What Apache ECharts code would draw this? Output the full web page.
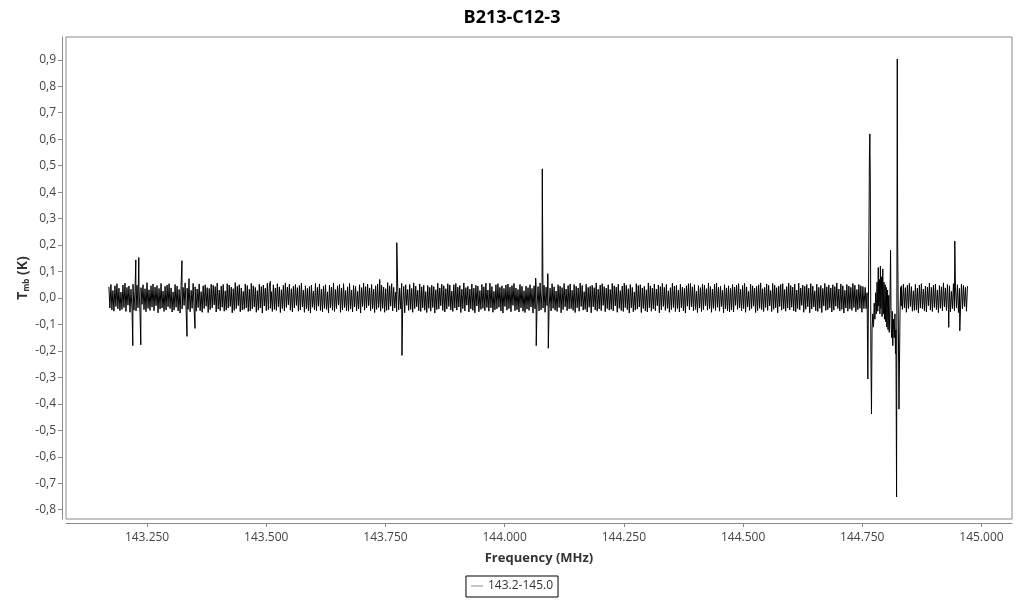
<!DOCTYPE html>
<html>
<head>
<meta charset="utf-8">
<script src="https://cdn.jsdelivr.net/npm/echarts@6/dist/echarts.min.js"></script>
<style>
html,body{margin:0;padding:0;background:#fff;}
#chart{width:1024px;height:600px;}
</style>
</head>
<body>
<div id="chart"></div>
<script>
// ---- data ----
const chartTitle = 'B213-C12-3';
const seriesName = '143.2-145.0';
const xTicks = [143.25, 143.5, 143.75, 144.0, 144.25, 144.5, 144.75, 145.0];
const yTicks = [-0.8,-0.7,-0.6,-0.5,-0.4,-0.3,-0.2,-0.1,0,0.1,0.2,0.3,0.4,0.5,0.6,0.7,0.8,0.9];
const xRange = [143.08, 145.064];
const yRange = [-0.835, 0.986];

// channel grid of the two baseline segments (first and last channel, MHz)
const segA = [143.170, 144.7534];
const segB = [144.832, 144.9706];
// baseline noise, mK, read column by column along the band
const noiseA_mK = [
42,-38,51,-45,28,-50,46,-32,54,-41,37,-48,22,-43,49,-36,56,-51,40,-27,
45,-54,33,-40,52,-46,25,-49,48,-37,43,-55,39,-24,50,-44,35,-52,58,-39,
31,-47,46,-34,53,-48,41,-29,47,-56,36,-42,55,-38,26,-51,44,-45,49,-33,
54,-40,38,-53,23,-46,51,-35,45,-49,32,-57,48,-41,40,-28,57,-47,37,-43,
47,-52,29,-39,55,-45,42,-50,34,-36,53,-48,24,-54,46,-40,50,-31,39,-55,
36,-44,52,-37,48,-26,43,-53,56,-42,30,-48,45,-35,51,-50,27,-46,54,-38,
49,-32,41,-56,35,-47,58,-40,44,-29,50,-52,38,-45,25,-43,53,-37,47,-51,
33,-49,55,-41,46,-34,40,-54,28,-46,52,-38,43,-57,49,-30,37,-48,56,-44,
45,-39,24,-51,50,-43,38,-47,54,-33,42,-55,31,-40,48,-49,57,-36,41,-26,
52,-46,35,-53,44,-38,51,-28,39,-50,47,-45,56,-34,29,-54,46,-41,36,-48,
43,-57,49,-35,26,-44,55,-49,40,-31,53,-47,34,-52,45,-39,50,-43,23,-56,
48,-37,41,-46,57,-51,32,-40,46,-27,51,-54,37,-45,54,-36,28,-48,42,-50,
55,-42,30,-53,47,-34,44,-49,25,-41,50,-57,39,-32,56,-46,43,-38,52,-29,
38,-48,51,-40,34,-55,46,-43,53,-36,27,-50,48,-39,41,-54,35,-47,58,-44,
46,-31,54,-49,40,-38,22,-52,49,-45,37,-41,55,-34,44,-56,50,-28,32,-47,
51,-43,36,-54,57,-40,45,-33,29,-48,53,-51,42,-37,48,-46,24,-55,47,-39,
40,-50,48,-36,43,-57,31,-44,56,-41,38,-29,52,-47,46,-53,35,-42,54,-32,
49,-45,26,-51,50,-38,55,-46,41,-34,47,-55,33,-40,57,-49,39,-27,44,-53,
34,-41,53,-47,37,-56,48,-30,45,-52,28,-43,51,-39,42,-48,56,-36,30,-50,
56,-37,43,-54,25,-45,50,-41,54,-35,40,-49,46,-57,36,-32,49,-46,53,-40,
41,-52,47,-28,55,-48,38,-44,32,-53,51,-37,44,-50,27,-55,45,-42,39,-47,
50,-34,36,-57,46,-41,53,-31,43,-49,57,-45,30,-38,48,-54,41,-29,52,-43,
37,-49,54,-39,42,-46,26,-51,50,-36,45,-56,39,-44,55,-33,34,-48,47,-41,
53,-40,29,-47,51,-55,44,-37,38,-50,56,-32,47,-46,24,-43,52,-53,40,-35,
44,-56,48,-33,39,-45,57,-50,33,-41,49,-48,54,-28,43,-52,37,-40,50,-46,
32,-43,55,-49,46,-30,41,-54,52,-39,28,-47,45,-51,56,-36,48,-44,35,-57,
51,-38,40,-52,23,-46,54,-42,47,-34,50,-55,38,-40,44,-49,31,-53,57,-37,
46,-50,37,-41,53,-48,34,-29,49,-56,43,-45,55,-32,40,-47,51,-39,27,-54,
39,-44,56,-36,45,-51,48,-40,30,-53,52,-37,41,-49,36,-57,46,-31,54,-45,
55,-33,42,-48,50,-43,26,-55,47,-38,39,-51,53,-44,48,-29,35,-46,57,-40,
43,-54,34,-39,52,-47,56,-35,40,-50,45,-32,29,-56,50,-41,38,-48,46,-52,
36,-45,51,-53,41,-28,49,-43,54,-37,33,-49,47,-40,55,-54,42,-34,25,-47,
52,-40,46,-31,37,-55,44,-48,50,-39,57,-44,35,-51,40,-36,53,-47,48,-30,
28,-51,55,-43,48,-37,39,-56,45,-32,51,-46,54,-41,32,-50,43,-38,56,-45,
47,-35,41,-49,53,-52,30,-40,56,-45,38,-28,49,-54,44,-43,51,-33,37,-56,
54,-42,45,-34,27,-48,52,-51,40,-39,47,-55,36,-30,55,-47,42,-44,49,-37,
38,-53,50,-46,43,-31,57,-40,34,-49,53,-43,46,-57,29,-38,51,-50,45,-41,
40,-47,55,-36,48,-52,32,-44,51,-39,46,-54,43,-40
];
const noiseB_mK = [
46,-43,52,-37,39,-54,48,-40,55,-32,43,-50,27,-47,51,-45,37,-56,49,-38,
54,-41,34,-48,45,-53,41,-29,56,-46,40,-51,48,-36,53,-44,30,-55,47,-39,
42,-49,57,-34,38,-47,51,-43,46,-52,25,-40,54,-48,44,-37,50,-55,36,-45,
53,-41,47,-32,40,-50,45
];

// isolated single-channel spikes
const spikeFreq = [143.2201,143.2264,143.2327,143.2369,143.3232,143.3338,143.3380,143.3506,
  143.5085,143.7379,143.7737,143.7846,144.0650,144.0662,144.0789,144.0905,144.0915,
  144.9313,144.9440,144.9545];
const spikeVal  = [-0.180,0.144,0.153,-0.177,0.141,-0.145,0.073,-0.115,
  0.063,0.070,0.209,-0.217,0.075,-0.180,0.488,0.092,-0.190,
  -0.111,0.215,-0.124];

// the strong line feature near 144.76-144.83 MHz
const featFreq = [144.7560,144.7580,144.7600,144.7617,144.7625,144.7640,144.7650,144.7659,144.7668,144.7680,144.7693,
  144.7705,144.7720,144.7735,144.7750,144.7765,144.7780,144.7795,144.7810,144.7825,144.7835,144.7845,144.7860,
  144.7870,144.7880,144.7890,144.7905,144.7915,144.7930,144.7940,144.7955,144.7965,144.7980,144.7990,144.8005,
  144.8015,144.8030,144.8040,144.8055,144.8065,144.8080,144.8093,144.8105,144.8115,144.8130,144.8140,144.8155,
  144.8170,144.8185,144.8196,144.8205,144.8219,144.8234,144.8242,144.8250,144.8270,144.8280,144.8292,144.8305,144.8315];
const featVal = [0.040,-0.040,0.020,-0.306,-0.100,0.250,0.540,0.620,0.450,-0.200,-0.438,
  -0.120,-0.060,-0.110,-0.020,-0.080,0.020,-0.060,0.060,-0.050,0.115,-0.030,0.070,
  -0.060,0.120,-0.040,0.080,-0.070,0.110,-0.060,0.060,-0.080,0.050,-0.090,0.040,
  -0.110,0.030,-0.120,0.010,-0.130,-0.020,0.180,-0.100,-0.150,-0.050,-0.180,-0.080,
  -0.150,-0.060,-0.210,-0.120,-0.752,0.903,0.200,0.050,-0.420,-0.250,-0.050,0.040,-0.030];

// ---- build the spectrum ----
const pts = [];
function addSegment(seg, vals){
  const step = (seg[1]-seg[0])/(vals.length-1);
  vals.forEach((v,i)=>pts.push([seg[0] + i*step, v/1000]));
}
addSegment(segA, noiseA_mK);
addSegment(segB, noiseB_mK);
spikeFreq.forEach((f,i)=>pts.push([f, spikeVal[i]]));
featFreq.forEach((f,i)=>pts.push([f, featVal[i]]));
pts.sort((a,b)=>a[0]-b[0]);

const FONT = "'Open Sans', 'Noto Sans', sans-serif";
const chart = echarts.init(document.getElementById('chart'), null, {renderer:'canvas'});
chart.setOption({
  animation:false,
  backgroundColor:'#fff',
  textStyle:{fontFamily:FONT},
  title:{text:chartTitle,left:'center',top:4,
    textStyle:{fontFamily:FONT,fontSize:18,fontWeight:'bold',color:'#000'}},
  grid:{left:66,right:12,top:37,bottom:81,show:true,borderColor:'#8a8a8a',borderWidth:1,containLabel:false},
  legend:{data:[{name:seriesName,icon:'path://M0,0 L12,0 L12,1 L0,1 Z'}],left:'center',top:576,
    borderColor:'#000',borderWidth:1,padding:[4,5,5,5],itemWidth:12,itemHeight:1,itemGap:4,
    textStyle:{fontFamily:FONT,fontSize:12,color:'#333'},itemStyle:{color:'#888'}},
  xAxis:{type:'value',min:xRange[0],max:xRange[1],offset:4,
    name:'Frequency (MHz)',nameLocation:'middle',nameGap:29,nameMoveOverlap:false,
    nameTextStyle:{fontFamily:FONT,fontSize:13,fontWeight:'bold',color:'#333'},
    axisLine:{show:true,onZero:false,lineStyle:{color:'#8a8a8a',width:1}},
    axisTick:{show:true,length:4,lineStyle:{color:'#8a8a8a'},customValues:xTicks},
    axisLabel:{customValues:xTicks,margin:9,fontFamily:FONT,fontSize:12,color:'#444',
      formatter:v=>v.toFixed(3)},
    splitLine:{show:false}},
  yAxis:{type:'value',min:yRange[0],max:yRange[1],offset:4,
    name:'{b|T}{s|mb}{b| (K)}',nameLocation:'middle',nameGap:31,nameRotate:90,nameMoveOverlap:false,
    nameTextStyle:{fontFamily:FONT,color:'#333',
      rich:{b:{fontFamily:FONT,fontSize:14,fontWeight:'bold',color:'#333'},
            s:{fontFamily:FONT,fontSize:8,fontWeight:'bold',color:'#333',padding:[8,0,0,0]}}},
    axisLine:{show:true,onZero:false,lineStyle:{color:'#8a8a8a',width:1}},
    axisTick:{show:true,length:4,lineStyle:{color:'#8a8a8a'},customValues:yTicks},
    axisLabel:{customValues:yTicks,margin:6,fontFamily:FONT,fontSize:12,color:'#444',
      formatter:v=>v.toFixed(1).replace('.',',').replace('-0,0','0,0')},
    splitLine:{show:false}},
  series:[{name:seriesName,type:'line',data:pts,showSymbol:false,symbol:'none',
    sampling:null,lineStyle:{color:'#000',width:1},itemStyle:{color:'#000'}}]
});
</script>
</body>
</html>
